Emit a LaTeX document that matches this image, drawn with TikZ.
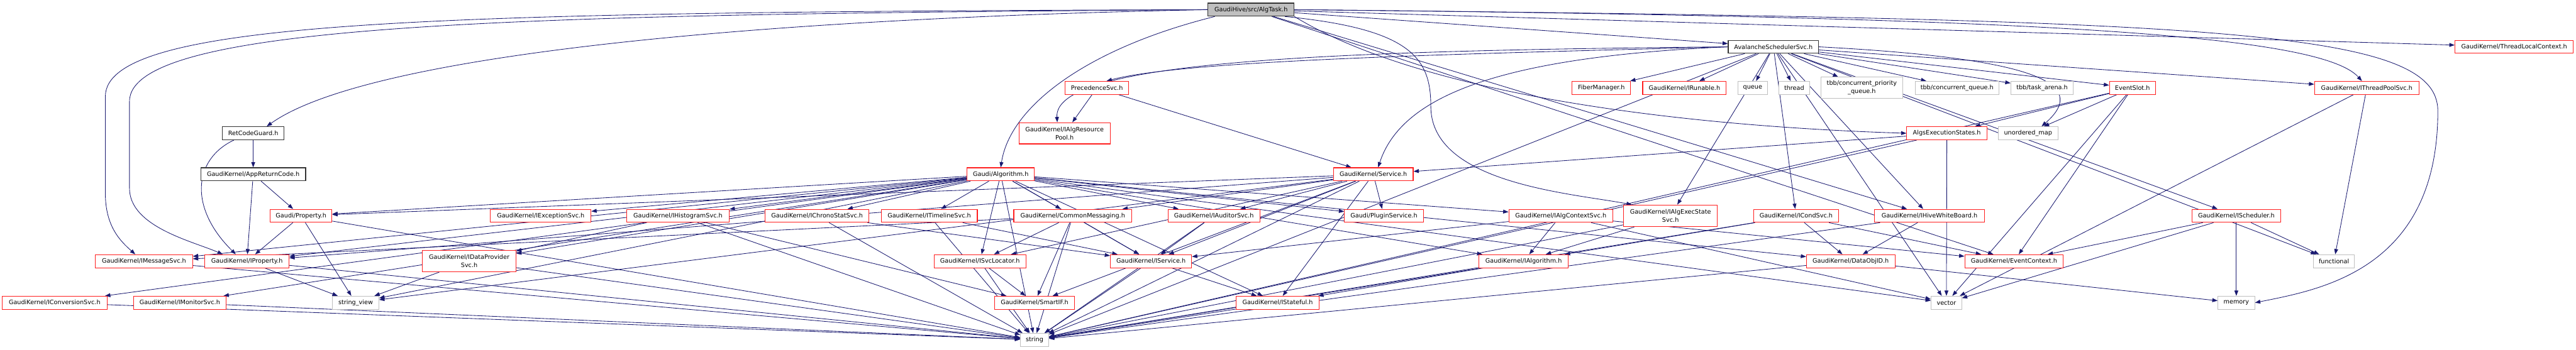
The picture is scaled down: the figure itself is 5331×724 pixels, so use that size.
\documentclass[tikz,border=0pt]{standalone}
\usepackage{fontspec}
\setmainfont{DejaVu Sans}
\usetikzlibrary{arrows.meta}
\definecolor{mblue}{RGB}{25,25,112}
\definecolor{nred}{RGB}{255,30,30}
\definecolor{ngray}{RGB}{191,191,191}
\newcommand{\nf}{\fontsize{12.6}{17}\selectfont}
\pgfdeclarelayer{bg}
\pgfsetlayers{bg,main}
\tikzset{
  nd/.style={draw, line width=1.4pt, fill=white, inner sep=0pt, align=center, font=\nf, minimum height=27pt},
  rnd/.style={nd, draw=nred},
  snd/.style={nd, draw=ngray},
  bnd/.style={nd, draw=black!80},
  gnd/.style={nd, draw=black!80, fill=ngray},
  e/.style={draw=mblue, line width=1.1pt, -{Triangle[length=11pt,width=8pt]}}
}
\begin{document}
\begin{tikzpicture}[x=1pt,y=-1pt]
\useasboundingbox (0,0) rectangle (5331,724);
% row 0
\node[gnd, minimum width=178pt] (T) at (2589,20) {GaudiHive/src/AlgTask.h};
% row 1
\node[bnd, minimum width=187pt] (A) at (3670,97) {AvalancheSchedulerSvc.h};
\node[rnd, minimum width=245pt] (TLC) at (5203,97) {GaudiKernel/ThreadLocalContext.h};
% row 2
\node[rnd, minimum width=131pt] (PS) at (2270,182) {PrecedenceSvc.h};
\node[rnd, minimum width=121pt] (FM) at (3314,182) {FiberManager.h};
\node[rnd, minimum width=173pt] (RUN) at (3486,182) {GaudiKernel/IRunable.h};
\node[snd, minimum width=61pt] (Q) at (3627,182) {queue};
\node[snd, minimum width=64pt] (TH) at (3713,182) {thread};
\node[snd, minimum width=169pt, minimum height=44pt] (TCPQ) at (3853,182) {tbb/concurrent\_priority\\\_queue.h};
\node[snd, minimum width=173pt] (TCQ) at (4050,182) {tbb/concurrent\_queue.h};
\node[snd, minimum width=129pt] (TTA) at (4226,182) {tbb/task\_arena.h};
\node[rnd, minimum width=95pt] (ES) at (4413,182) {EventSlot.h};
\node[rnd, minimum width=216pt] (TPS) at (4898,182) {GaudiKernel/IThreadPoolSvc.h};
% row 3
\node[bnd, minimum width=127pt] (RCG) at (524,276) {RetCodeGuard.h};
\node[rnd, minimum width=189pt, minimum height=44pt] (ARP) at (2203,276) {GaudiKernel/IAlgResource\\Pool.h};
\node[rnd, minimum width=166pt] (AES) at (4029,276) {AlgsExecutionStates.h};
\node[snd, minimum width=124pt] (UM) at (4197,276) {unordered\_map};
% row 4
\node[bnd, minimum width=217pt] (ARC) at (524,361) {GaudiKernel/AppReturnCode.h};
\node[rnd, minimum width=139pt] (GA) at (2071,361) {Gaudi/Algorithm.h};
\node[rnd, minimum width=165pt] (SV) at (2842,361) {GaudiKernel/Service.h};
% row 5
\node[rnd, minimum width=128pt] (GP) at (623,447) {Gaudi/Property.h};
\node[rnd, minimum width=208pt] (IES) at (1119,447) {GaudiKernel/IExceptionSvc.h};
\node[rnd, minimum width=212pt] (IHS) at (1403,447) {GaudiKernel/IHistogramSvc.h};
\node[rnd, minimum width=215pt] (ICS) at (1691,447) {GaudiKernel/IChronoStatSvc.h};
\node[rnd, minimum width=199pt] (ITS) at (1923,447) {GaudiKernel/ITimelineSvc.h};
\node[rnd, minimum width=244pt] (CM) at (2220,447) {GaudiKernel/CommonMessaging.h};
\node[rnd, minimum width=190pt] (IAS) at (2512,447) {GaudiKernel/IAuditorSvc.h};
\node[rnd, minimum width=163pt] (PLS) at (2864,447) {Gaudi/PluginService.h};
\node[rnd, minimum width=215pt] (IACS) at (3230,447) {GaudiKernel/IAlgContextSvc.h};
\node[rnd, minimum width=194pt, minimum height=45pt] (IAESS) at (3457,447) {GaudiKernel/IAlgExecState\\Svc.h};
\node[rnd, minimum width=175pt] (ICD) at (3717,447) {GaudiKernel/ICondSvc.h};
\node[rnd, minimum width=227pt] (IHWB) at (3993,447) {GaudiKernel/IHiveWhiteBoard.h};
\node[rnd, minimum width=183pt] (ISCH) at (4628,447) {GaudiKernel/IScheduler.h};
% row 6
\node[rnd, minimum width=201pt] (IMS) at (298,541) {GaudiKernel/IMessageSvc.h};
\node[rnd, minimum width=174pt] (IPR) at (511,541) {GaudiKernel/IProperty.h};
\node[rnd, minimum width=193pt, minimum height=44pt] (IDPS) at (971,541) {GaudiKernel/IDataProvider\\Svc.h};
\node[rnd, minimum width=190pt] (ISL) at (2028,541) {GaudiKernel/ISvcLocator.h};
\node[rnd, minimum width=168pt] (ISV) at (2382,541) {GaudiKernel/IService.h};
\node[rnd, minimum width=185pt] (IALG) at (3153,541) {GaudiKernel/IAlgorithm.h};
\node[rnd, minimum width=183pt] (DOI) at (3830,541) {GaudiKernel/DataObjID.h};
\node[rnd, minimum width=204pt] (EC) at (4168,541) {GaudiKernel/EventContext.h};
\node[snd, minimum width=85pt] (FUN) at (4830,541) {functional};
% row 7
\node[rnd, minimum width=217pt] (ICV) at (113,627) {GaudiKernel/IConversionSvc.h};
\node[rnd, minimum width=192pt] (IMON) at (372,627) {GaudiKernel/IMonitorSvc.h};
\node[snd, minimum width=96pt] (SVW) at (736,627) {string\_view};
\node[rnd, minimum width=166pt] (SIF) at (2141,627) {GaudiKernel/SmartIF.h};
\node[rnd, minimum width=172pt] (IST) at (2644,627) {GaudiKernel/IStateful.h};
\node[snd, minimum width=63pt] (VEC) at (4028,627) {vector};
\node[snd, minimum width=76pt] (MEM) at (4628,627) {memory};
% row 8
\node[snd, minimum width=58pt] (STR) at (2141,704) {string};

\begin{pgfonlayer}{bg}
\fill[white] (0,0) rectangle (5331,724);
% curved connectors
\draw[e] (T.west) .. controls (1500,40) and (750,120) .. ([xshift=28pt]RCG.north);
\draw[e] (T.west) .. controls (900,25) and (218,40) .. (218,200) -- (218,400) .. controls (218,470) and (250,500) .. ([xshift=-18pt]IMS.north);
\draw[e] (T.west) .. controls (1100,30) and (268,45) .. (268,210) -- (268,390) .. controls (268,470) and (400,500) .. ([xshift=-50pt]IPR.north);
\draw[e] ([xshift=-75pt]T.south) .. controls (2250,100) and (2090,220) .. (GA.north);
\draw[e] ([xshift=70pt]T.south) .. controls (2920,60) and (2961,120) .. (2961,220) .. controls (2961,380) and (3250,400) .. ([xshift=-80pt]IAESS.north);
\draw[e] (T.east) .. controls (4200,35) and (4800,70) .. ([xshift=-10pt]TPS.north);
\draw[e] (T.east) .. controls (4600,40) and (5045,60) .. (5045,230) .. controls (5045,560) and (4800,600) .. (MEM.east);
\draw[e] (T.south east) .. controls (2950,200) and (3500,262) .. (AES.west);
\draw[e] (A.west) .. controls (2700,105) and (2180,130) .. ([xshift=-15pt]ARP.north);
\draw[e] (A.west) .. controls (3000,112) and (2450,125) .. ([xshift=20pt]PS.north);
\draw[e] (A.west) .. controls (3100,118) and (2900,200) .. ([xshift=10pt]SV.north);
\draw[e] (A.east) .. controls (4200,120) and (4330,170) .. ([xshift=28pt]UM.north);
\draw[e] ([xshift=-40pt]RCG.south) .. controls (400,330) and (390,430) .. ([xshift=-23pt]IPR.north);
% straight connectors
\foreach \s/\t in {T/A, T/TLC, T/EC, T/IHWB,
  A/FM, A/RUN, A/Q, A/TH, A/TCPQ, A/TCQ, A/TTA, A/ES, A/TPS, A/IAESS, A/ICD, A/IHWB, A/ISCH, A/FUN, A/VEC, A/STR,
  PS/ARP, PS/SV,
  ES/AES, ES/UM, ES/EC, ES/VEC, ES/STR,
  AES/SV, AES/VEC, AES/STR,
  TPS/FUN, TPS/VEC,
  ISCH/FUN, ISCH/MEM, ISCH/EC, ISCH/VEC,
  RCG/ARC, ARC/GP, ARC/IPR,
  GA/IMS, GA/IPR, GA/GP, GA/ICV, GA/IMON, GA/IDPS, GA/IES, GA/IHS, GA/ICS, GA/ITS, GA/CM, GA/IAS, GA/PLS, GA/IACS, GA/IALG, GA/ISV, GA/ISL, GA/IST, GA/DOI, GA/SVW, GA/STR, GA/VEC,
  SV/PLS, SV/ISV, SV/SIF, SV/IST, SV/IAS, SV/CM, SV/ISL, SV/GP, SV/IPR, SV/SVW, SV/STR,
  CM/IMS, CM/ISL, CM/ISV, CM/SIF, CM/STR,
  IAS/ISV, IAS/STR, ITS/ISV, ITS/STR, ICS/ISV, ICS/STR,
  IHS/IDPS, IHS/SIF, IHS/STR, IDPS/SVW, IDPS/STR,
  ISL/SIF, ISL/STR, ISV/IST, ISV/STR, IST/STR,
  IPR/SVW, IPR/STR, IMS/STR, ICV/STR, IMON/STR,
  GP/IPR, GP/SVW, GP/STR,
  ICD/DOI, ICD/EC, ICD/IALG, ICD/STR,
  IHWB/DOI, IHWB/STR, DOI/STR, DOI/MEM,
  IALG/IST, IALG/STR,
  IACS/IALG, IACS/ISV, IACS/VEC, IACS/EC,
  IAESS/IALG, IAESS/STR}
  \draw[e] (\s) -- (\t);
\end{pgfonlayer}
\end{tikzpicture}
\end{document}
